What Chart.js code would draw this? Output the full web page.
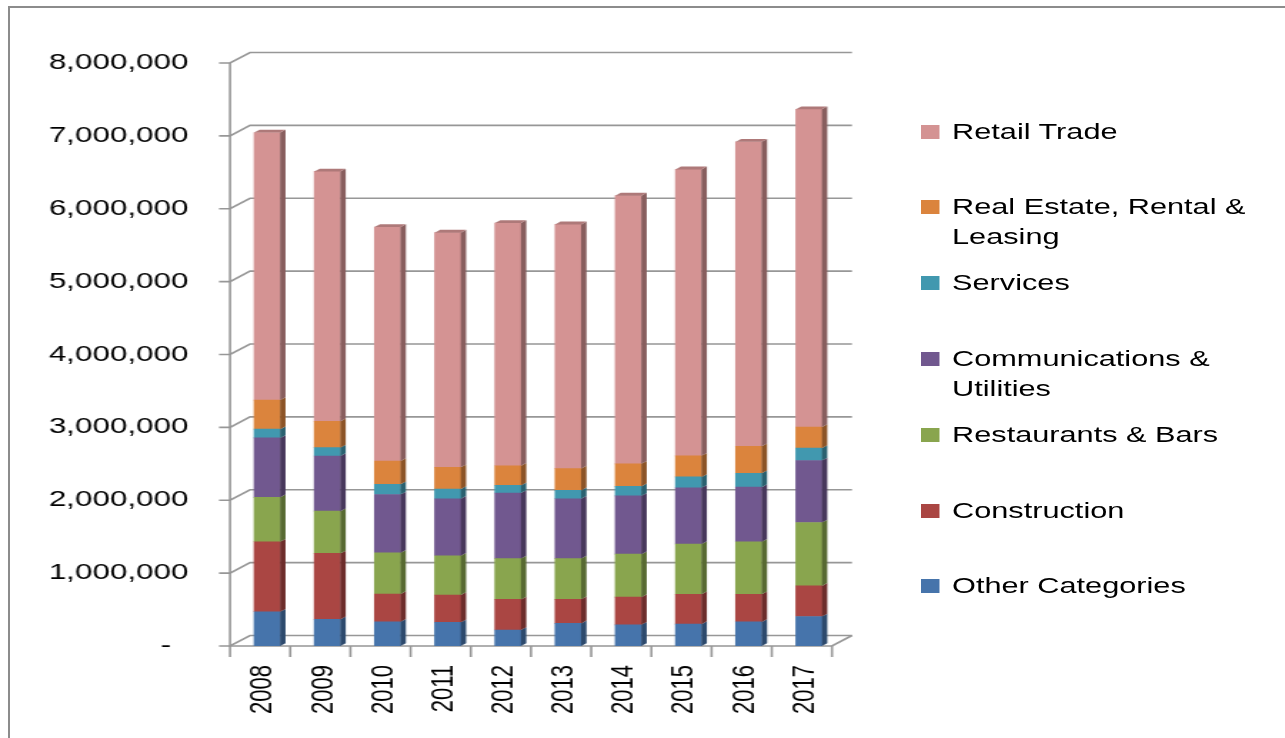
<!DOCTYPE html>
<html><head><meta charset="utf-8">
<script src="https://cdn.jsdelivr.net/npm/chart.js@4.4.1/dist/chart.umd.min.js"></script>
<style>
html,body{margin:0;padding:0;background:#fff;overflow:hidden;width:1285px;height:738px}
#frame{position:absolute;left:8px;top:6px;width:1320px;height:780px;border:2px solid #8c8c8c;box-sizing:border-box}
#wrap{position:absolute;left:0;top:0;width:900px;height:738px;transform:scaleX(1.427778);transform-origin:0 0}
#c{position:absolute;left:0;top:0}
.lg{position:absolute;left:645px;width:260px;font-family:'Liberation Sans',Arial,sans-serif;font-size:21.5px;line-height:30px;color:#000}
.lg .bx{position:absolute;left:0;top:8px;width:13.3px;height:14px}
.lg .tx{margin-left:21.8px;width:225px}
</style></head><body>
<div id="frame"></div>
<div id="wrap"><canvas id="c" width="900" height="738"></canvas><div id="legend"></div></div>
<script>
// ---- data ----
const years = ['2008','2009','2010','2011','2012','2013','2014','2015','2016','2017'];
const otherCategories = [470000, 365000, 333000, 324000, 219000, 310000, 290000, 300000, 330000, 405000];
const construction    = [960000, 905000, 380000, 375000, 420000, 330000, 380000, 410000, 380000, 420000];
const restaurantsBars = [610000, 580000, 566000, 540000, 560000, 560000, 590000, 690000, 720000, 870000];
const communications  = [815000, 757000, 800000, 780000, 900000, 820000, 800000, 770000, 750000, 850000];
const services        = [120000, 115000, 140000, 133000, 105000, 115000, 130000, 150000, 190000, 170000];
const realEstate      = [400000, 360000, 320000, 300000, 270000, 300000, 310000, 290000, 370000, 290000];
const retailTrade     = [3670000, 3430000, 3210000, 3220000, 3330000, 3350000, 3680000, 3930000, 4180000, 4360000];
const seriesNames = ['Other Categories','Construction','Restaurants & Bars','Communications & Utilities','Services','Real Estate, Rental & Leasing','Retail Trade'];
const seriesValues = [otherCategories, construction, restaurantsBars, communications, services, realEstate, retailTrade];
const seriesColors = ['#4674AB','#AA4643','#89A54E','#71588F','#4198AF','#DB843D','#D49393'];
const yTickMax = 8000000, yTickStep = 1000000;

// ---- layout helpers ----
const S = 1285/900;
const FONT = "'Liberation Sans', Arial, sans-serif";

function shade(hex, f){
  const n = parseInt(hex.slice(1),16);
  const r = Math.round(((n>>16)&255)*f), g = Math.round(((n>>8)&255)*f), b = Math.round((n&255)*f);
  return 'rgb('+r+','+g+','+b+')';
}

const wall3d = {
  id:'wall3d',
  beforeDatasetsDraw(chart){
    const {ctx, chartArea} = chart; const x = chart.scales.x, y = chart.scales.y;
    const off = 7/S, axisX = chartArea.left - off, floorR = chartArea.right - off;
    const wdx = 20/S, wdy = -10.5, tl = 11/S;
    ctx.save();
    ctx.strokeStyle = '#979797'; ctx.lineWidth = 1.6;
    y.ticks.forEach(t => {
      const py = y.getPixelForValue(t.value);
      ctx.beginPath();
      ctx.moveTo(axisX - tl, py); ctx.lineTo(axisX, py);
      ctx.lineTo(axisX + wdx, py + wdy); ctx.lineTo(floorR + wdx, py + wdy);
      ctx.stroke();
    });
    const y0 = y.getPixelForValue(0), yTop = y.getPixelForValue(y.max);
    ctx.beginPath();
    ctx.moveTo(axisX, yTop); ctx.lineTo(axisX, y0); ctx.lineTo(floorR, y0); ctx.lineTo(floorR + wdx, y0 + wdy);
    ctx.stroke();
    const n = x.ticks.length;
    for (let i = 0; i <= n; i++){
      const px = axisX + i*(floorR-axisX)/n;
      ctx.beginPath(); ctx.moveTo(px, y0); ctx.lineTo(px, y0 + 11); ctx.stroke();
    }
    ctx.restore();
  },
  afterDatasetsDraw(chart){
    const ctx = chart.ctx; const bdx = 3.8, bdy = -2.8;
    const last = chart.data.datasets.length - 1;
    ctx.save();
    chart.data.datasets.forEach((ds, di) => {
      const meta = chart.getDatasetMeta(di);
      meta.data.forEach(el => {
        const p = el.getProps(['x','y','base','width'], true);
        const r = p.x + p.width/2, l = p.x - p.width/2;
        ctx.fillStyle = shade(ds.backgroundColor, 0.64);
        ctx.beginPath();
        ctx.moveTo(r, p.y); ctx.lineTo(r+bdx, p.y+bdy); ctx.lineTo(r+bdx, p.base+bdy); ctx.lineTo(r, p.base);
        ctx.closePath(); ctx.fill();
        if (di === last){
          ctx.fillStyle = shade(ds.backgroundColor, 0.82);
          ctx.beginPath();
          ctx.moveTo(l, p.y); ctx.lineTo(l+bdx, p.y+bdy); ctx.lineTo(r+bdx, p.y+bdy); ctx.lineTo(r, p.y);
          ctx.closePath(); ctx.fill();
        }
      });
    });
    ctx.restore();
  }
};

const chart = new Chart(document.getElementById('c'), {
  type:'bar',
  data:{
    labels: years,
    datasets: seriesNames.map((name, i) => ({
      label: name, data: seriesValues[i], backgroundColor: seriesColors[i],
      borderWidth: 0, barThickness: 18.2
    }))
  },
  options:{
    responsive:false, animation:false, devicePixelRatio:1,
    layout:{padding:{left:0, top:63, right:900-587.6, bottom:0}},
    plugins:{legend:{display:false}, tooltip:{enabled:false}},
    scales:{
      x:{
        stacked:true,
        grid:{display:false, drawTicks:false}, border:{display:false},
        ticks:{autoSkip:false, maxRotation:90, minRotation:90, padding:19, labelOffset:-2.8, color:'#000', font:{family:FONT, size:22}},
        afterFit(s){ s.height = 92; }
      },
      y:{
        stacked:true, min:0, max:yTickMax,
        grid:{display:false, drawTicks:false}, border:{display:false},
        ticks:{stepSize:yTickStep, padding:34, color:'#000', font:{family:FONT, size:22},
          callback:v => v === 0 ? '-  ' : Number(v).toLocaleString('en-US')},
        afterFit(s){ s.width = 166; }
      }
    }
  },
  plugins:[wall3d]
});

// HTML legend built from the chart's datasets (reverse order, like the original)
const legendEl = document.getElementById('legend');
chart.data.datasets.slice().reverse().forEach((ds, k) => {
  const cy = 131.5 + k*75.8;
  const item = document.createElement('div');
  item.className = 'lg';
  item.style.top = (cy - 15) + 'px';
  const bx = document.createElement('span');
  bx.className = 'bx'; bx.style.background = ds.backgroundColor;
  const tx = document.createElement('div');
  tx.className = 'tx'; tx.textContent = ds.label;
  item.appendChild(bx); item.appendChild(tx);
  legendEl.appendChild(item);
});
</script>
</body></html>
